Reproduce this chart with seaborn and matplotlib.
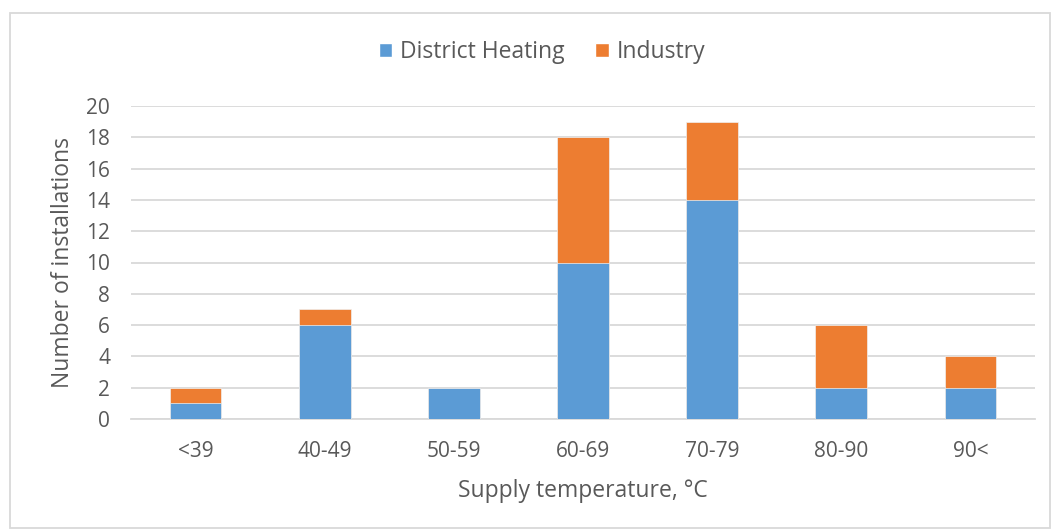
import matplotlib
matplotlib.use("Agg")
import matplotlib.pyplot as plt
import seaborn as sns
import pandas as pd
from matplotlib.patches import Rectangle, Patch

categories = ["<39", "40-49", "50-59", "60-69", "70-79", "80-90", "90<"]
district_heating = [1, 6, 2, 10, 14, 2, 2]
industry = [1, 1, 0, 8, 5, 4, 2]
yticks = [0, 2, 4, 6, 8, 10, 12, 14, 16, 18, 20]

BLUE = "#5B9BD5"
ORANGE = "#ED7D31"
TXT = "#595959"
GRID = "#D9D9D9"

sns.set_theme(style="white")
plt.rcParams["font.family"] = ["Open Sans", "DejaVu Sans"]

df = pd.DataFrame({"cat": categories, "dh": district_heating, "ind": industry})
df["total"] = df["dh"] + df["ind"]

fig = plt.figure(figsize=(10.51, 5.29), dpi=100)
ax = fig.add_axes([131/1051, 1-419/529, (1035-131)/1051, (419-106)/529])

sns.barplot(data=df, x="cat", y="total", color=ORANGE, width=0.4, ax=ax,
            saturation=1, edgecolor="#F0F0F0", linewidth=0.5, zorder=3)
sns.barplot(data=df, x="cat", y="dh", color=BLUE, width=0.4, ax=ax,
            saturation=1, edgecolor="#F0F0F0", linewidth=0.5, zorder=4)

ax.set_ylim(0, 20)
ax.set_xlim(-0.5, len(categories) - 0.5)
ax.set_yticks(yticks)
ax.yaxis.grid(True, color=GRID, linewidth=1.3, zorder=0)
ax.set_axisbelow(True)
for s in ["top", "right", "left"]:
    ax.spines[s].set_visible(False)
ax.spines["bottom"].set_color(GRID)
ax.spines["bottom"].set_linewidth(1.3)
ax.tick_params(axis="both", length=0, labelsize=15, colors=TXT)
ax.tick_params(axis="x", pad=16)
ax.tick_params(axis="y", pad=15)
ax.set_xlabel("Supply temperature, °C", fontsize=16.5, color=TXT, labelpad=12)
ax.set_ylabel("Number of installations", fontsize=16.5, color=TXT, labelpad=8)

handles = [Patch(facecolor=BLUE, label="District Heating"),
           Patch(facecolor=ORANGE, label="Industry")]
fig.legend(handles=handles, loc="center", bbox_to_anchor=(542/1051, 1-52/529), ncol=2,
           frameon=False, fontsize=16.5, labelcolor=TXT, handlelength=0.6,
           handleheight=0.6, handletextpad=0.35, columnspacing=1.3)

fig.patches.append(Rectangle((10/1051, 1-528/529), 1040/1051, (528-13)/529,
                             transform=fig.transFigure, fill=False,
                             edgecolor="#D9D9D9", linewidth=1.3))

fig.savefig("out.png", dpi=100)
